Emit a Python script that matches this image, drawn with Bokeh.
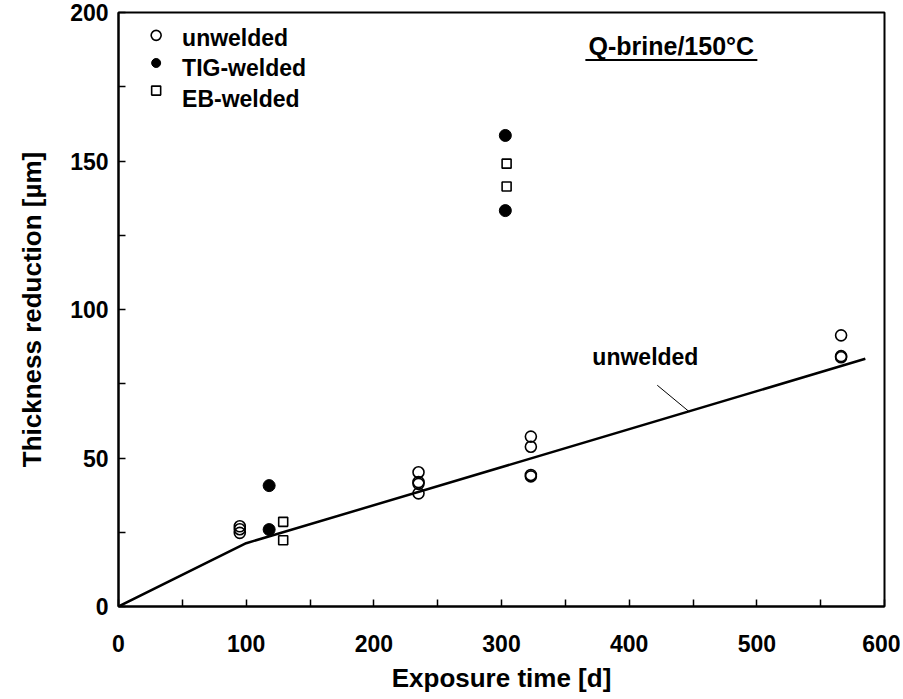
from bokeh.plotting import figure
from bokeh.models import FixedTicker, Range1d
from bokeh.embed import file_html
from bokeh.resources import INLINE
from bokeh.core.properties import value

# ---- data ----
unwelded_x = [95, 95, 95, 235, 235, 235, 235, 323, 323, 323, 323, 566, 566, 566]
unwelded_y = [27.0, 26.0, 24.8, 45.2, 41.9, 41.3, 38.1, 57.2, 53.8, 44.3, 43.8, 91.3, 84.3, 83.9]
tig_x = [118, 118, 303, 303]
tig_y = [40.7, 25.9, 158.6, 133.3]
eb_x = [129, 129, 304, 304]
eb_y = [28.5, 22.3, 149.1, 141.4]
fit_x = [0, 100, 585]
fit_y = [0.0, 21.3, 83.4]

x_major = [0, 100, 200, 300, 400, 500, 600]
x_minor = [50, 150, 250, 350, 450, 550]
y_major = [0, 50, 100, 150, 200]
y_minor = [25, 75, 125, 175]

legend_labels = ["unwelded", "TIG-welded", "EB-welded"]
title_text = "Q-brine/150°C"
fit_label = "unwelded"

FONT = "Liberation Sans"

p = figure(width=900, height=699, output_backend="svg", toolbar_location=None,
           x_range=Range1d(0, 600), y_range=Range1d(0, 200),
           min_border_left=118, min_border_right=16, min_border_top=12, min_border_bottom=93)
p.background_fill_color = "white"
p.border_fill_color = "white"
p.outline_line_color = "black"
p.outline_line_width = 2
p.xgrid.visible = False
p.ygrid.visible = False

p.xaxis.ticker = FixedTicker(ticks=x_major, minor_ticks=x_minor)
p.yaxis.ticker = FixedTicker(ticks=y_major, minor_ticks=y_minor)
for ax in (p.xaxis[0], p.yaxis[0]):
    ax.axis_line_width = 2
    ax.axis_line_color = "black"
    ax.major_tick_in = 7
    ax.major_tick_out = 0
    ax.minor_tick_in = 7
    ax.minor_tick_out = 0
    ax.major_tick_line_width = 1.5
    ax.minor_tick_line_width = 1.5
    ax.major_label_text_font = FONT
    ax.major_label_text_font_style = "bold"
    ax.major_label_text_font_size = "23px"
    ax.major_label_text_color = "black"
    ax.axis_label_text_font = FONT
    ax.axis_label_text_font_style = "bold"
    ax.axis_label_text_font_size = "26px"
    ax.axis_label_text_color = "black"

p.xaxis.axis_label = "Exposure time [d]"
p.yaxis.axis_label = "Thickness reduction [µm]"
p.xaxis.major_label_standoff = 28
p.xaxis.axis_label_standoff = 8
p.yaxis.major_label_standoff = 10
p.yaxis.axis_label_standoff = 20

# fit line
p.line(fit_x, fit_y, line_color="black", line_width=2.5)

# data points
p.scatter(unwelded_x, unwelded_y, marker="circle", size=11, fill_color=None,
          line_color="black", line_width=1.6)
p.scatter(tig_x, tig_y, marker="circle", size=12, fill_color="black", line_color="black")
p.scatter(eb_x, eb_y, marker="square", size=9, fill_color=None,
          line_color="black", line_width=1.6)

# manual legend
leg_mx = 29.5
leg_my = [192.3, 183.0, 173.7]
leg_tx = 49.8
leg_ty = [191.4, 181.3, 171.0]
p.scatter([leg_mx], [leg_my[0]], marker="circle", size=10, fill_color=None,
          line_color="black", line_width=1.6)
p.scatter([leg_mx], [leg_my[1]], marker="circle", size=9, fill_color="black", line_color="black")
p.scatter([leg_mx], [leg_my[2]], marker="square", size=9, fill_color=None,
          line_color="black", line_width=1.6)
p.text([leg_tx] * 3, leg_ty, text=legend_labels, text_font=value(FONT),
       text_font_style="bold", text_font_size="23px", text_baseline="middle",
       text_align="left", text_color="black")

# title with underline
p.text([433], [188.6], text=[title_text], text_font=value(FONT), text_font_style="bold",
       text_font_size="25px", text_baseline="middle", text_align="center", text_color="black")
p.line([365.7, 500.4], [184.0, 184.0], line_color="black", line_width=2)

# fit annotation with leader line
p.text([412.7], [84.0], text=[fit_label], text_font=value(FONT), text_font_style="bold",
       text_font_size="23px", text_baseline="middle", text_align="center", text_color="black")
p.line([422, 447], [74.5, 65.6], line_color="black", line_width=1)

open("out.html", "w").write(file_html(p, INLINE))
